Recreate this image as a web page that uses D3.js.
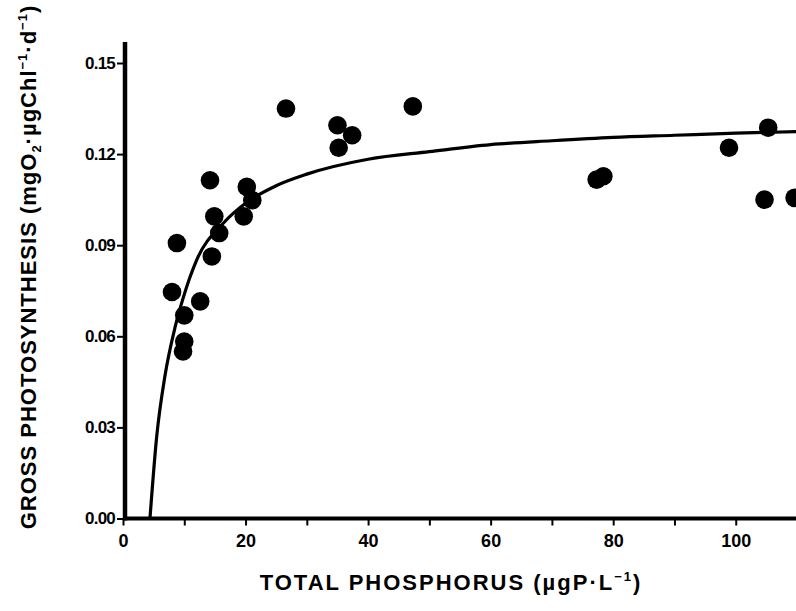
<!DOCTYPE html>
<html>
<head>
<meta charset="utf-8">
<script src="https://cdn.jsdelivr.net/npm/d3@7"></script>
<style>
  html, body { margin: 0; padding: 0; background: #fff; }
  svg { display: block; }
  text { font-family: "Liberation Sans", Arial, sans-serif; font-weight: bold; fill: #000; }
</style>
</head>
<body>
<svg id="chart" width="796" height="611"></svg>
<script>
// Observed points: total phosphorus (µgP/L) and gross photosynthesis
const pointsTP = [26.6, 47.3, 35.0, 37.4, 35.2, 14.2, 20.2, 21.1, 14.9, 19.7, 15.7, 8.8, 14.5, 8.0, 12.6, 10.0, 10.0, 9.8, 77.3, 78.4, 98.9, 105.3, 104.7, 109.6];
const pointsGP = [0.135, 0.1357, 0.1295, 0.1262, 0.1221, 0.1114, 0.1092, 0.1048, 0.0995, 0.0995, 0.0940, 0.0907, 0.0863, 0.0746, 0.0715, 0.0669, 0.0583, 0.0550, 0.1116, 0.1127, 0.1221, 0.1287, 0.1050, 0.1056];

// Fitted curve
const curveTP = [4.4, 5.5, 6.85, 8.5, 9.8, 12, 16.4, 20, 25, 30, 40, 50, 60, 70, 80, 90, 100, 110];
const curveGP = [0, 0.027, 0.047, 0.063, 0.0725, 0.085, 0.0973, 0.1038, 0.1096, 0.1134, 0.1183, 0.1208, 0.1231, 0.1244, 0.1255, 0.1262, 0.1269, 0.1274];

const xTicks = [0, 10, 20, 30, 40, 50, 60, 70, 80, 90, 100, 110];
const xTickLabels = ["0", "", "20", "", "40", "", "60", "", "80", "", "100", ""];
const yTicks = [0, 0.03, 0.06, 0.09, 0.12, 0.15];
const yTickLabels = ["0.00", "0.03", "0.06", "0.09", "0.12", "0.15"];

const svg = d3.select("#chart");
const x = d3.scaleLinear().domain([0, 110]).range([123, 797]);
const y = d3.scaleLinear().domain([0, 0.15]).range([518.5, 63]);

// Axes
const xAxis = d3.axisBottom(x)
  .tickValues(xTicks)
  .tickSize(7)
  .tickPadding(6)
  .tickFormat((d, i) => xTickLabels[i]);
const gx = svg.append("g").attr("transform", `translate(0,${y(0)})`).call(xAxis);
gx.select(".domain").remove();
gx.selectAll(".tick line").attr("stroke", "#000").attr("stroke-width", 2);
gx.selectAll(".tick text").attr("font-size", 18).attr("font-family", "Liberation Sans, Arial, sans-serif").attr("font-weight", "bold").attr("dy", "0.85em");

const yAxis = d3.axisLeft(y)
  .tickValues(yTicks)
  .tickSize(8)
  .tickPadding(2)
  .tickFormat((d, i) => yTickLabels[i]);
const gy = svg.append("g").attr("transform", `translate(${x(0) + 2},0)`).call(yAxis);
gy.select(".domain").remove();
gy.selectAll(".tick line").attr("stroke", "#000").attr("stroke-width", 2);
gy.selectAll(".tick text").attr("font-size", 17).attr("font-family", "Liberation Sans, Arial, sans-serif").attr("font-weight", "bold").attr("letter-spacing", "-0.8px");

// axis lines (heavy)
svg.append("line")
  .attr("x1", x(0) + 2).attr("x2", x(0) + 2)
  .attr("y1", 42).attr("y2", y(0) + 2)
  .attr("stroke", "#000").attr("stroke-width", 4.5);
svg.append("line")
  .attr("x1", x(0)).attr("x2", 796)
  .attr("y1", y(0)).attr("y2", y(0))
  .attr("stroke", "#000").attr("stroke-width", 4);

// Curve
const curveData = curveTP.map((d, i) => [d, curveGP[i]]);
svg.append("path")
  .datum(curveData)
  .attr("fill", "none")
  .attr("stroke", "#000")
  .attr("stroke-width", 3.2)
  .attr("d", d3.line().x(d => x(d[0])).y(d => y(d[1])).curve(d3.curveMonotoneX));

// Points
svg.append("g").selectAll("circle")
  .data(pointsTP.map((d, i) => [d, pointsGP[i]]))
  .join("circle")
  .attr("cx", d => x(d[0]))
  .attr("cy", d => y(d[1]))
  .attr("r", 9.3)
  .attr("fill", "#000");

// Axis titles
const xt = svg.append("text")
  .attr("x", 451).attr("y", 590)
  .attr("text-anchor", "middle")
  .attr("font-size", 22)
  .attr("letter-spacing", "2px");
xt.append("tspan").text("TOTAL PHOSPHORUS (µgP·L");
xt.append("tspan").attr("dy", -9).attr("font-size", 13).text("−1");
xt.append("tspan").attr("dy", 9).text(")");

const yt = svg.append("text")
  .attr("transform", "translate(36,267) rotate(-90)")
  .attr("text-anchor", "middle")
  .attr("font-size", 22)
  .attr("letter-spacing", "1px");
yt.append("tspan").text("GROSS PHOTOSYNTHESIS (mgO");
yt.append("tspan").attr("dy", 5).attr("font-size", 13).text("2");
yt.append("tspan").attr("dy", -5).text("·µgChl");
yt.append("tspan").attr("dy", -9).attr("font-size", 13).text("−1");
yt.append("tspan").attr("dy", 9).text("·d");
yt.append("tspan").attr("dy", -9).attr("font-size", 13).text("−1");
yt.append("tspan").attr("dy", 9).text(")");
</script>
</body>
</html>
